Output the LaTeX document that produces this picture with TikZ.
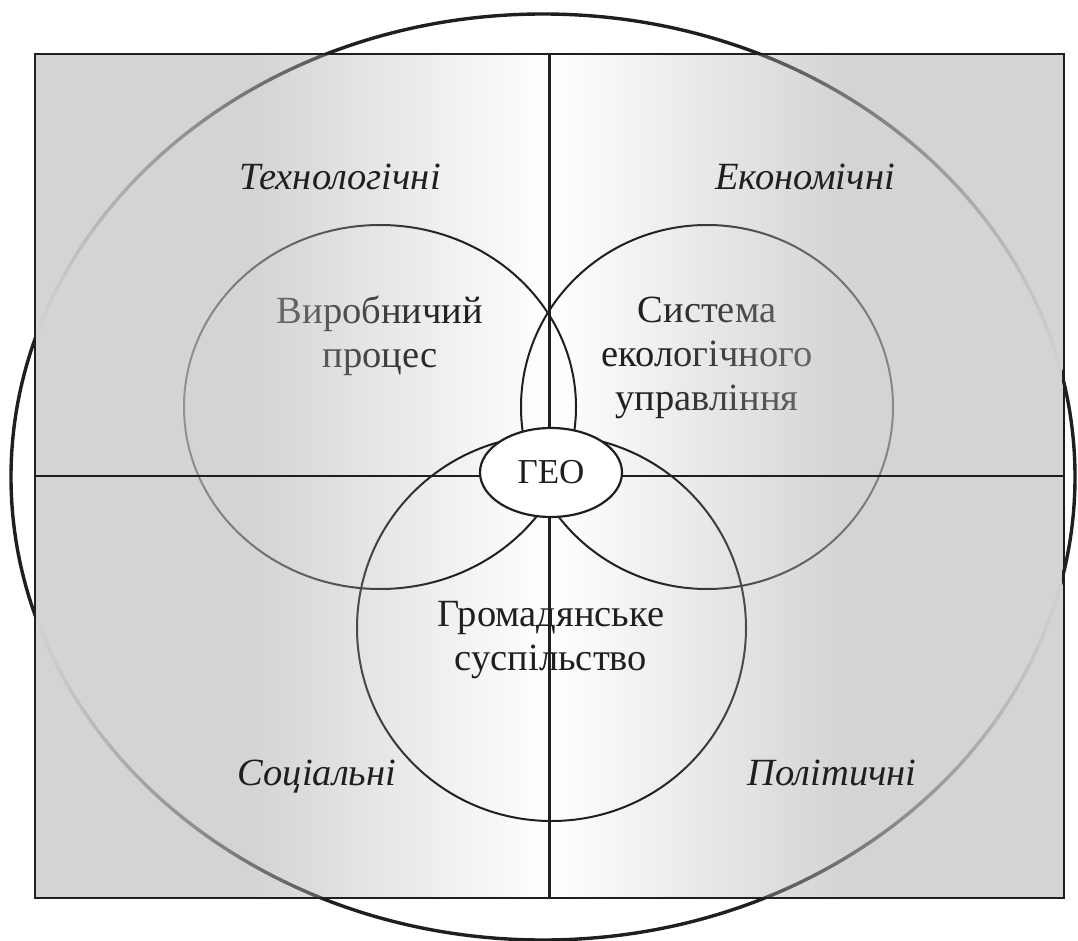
\documentclass[tikz,border=0pt]{standalone}
\usepackage{fontspec}
\setmainfont{Liberation Serif}
\usetikzlibrary{fadings,shapes.geometric}

\definecolor{bgg}{gray}{0.83}
\definecolor{ink}{gray}{0.12}
\pgfdeclarehorizontalshading{bgshade}{100bp}{color(0bp)=(bgg); color(35.45bp)=(bgg); color(50bp)=(white); color(64.55bp)=(bgg); color(100bp)=(bgg)}
\pgfdeclarehorizontalshading{edgeshade}{100bp}{color(0bp)=(white); color(25bp)=(white); color(45.17bp)=(black); color(54.83bp)=(black); color(75bp)=(white); color(100bp)=(white)}
\tikzfading[name=edgefade, shading=edgeshade]

\begin{document}
\begin{tikzpicture}[x=1pt,y=-1pt,
  ring/.style={ellipse, draw=ink, line width=2pt, inner sep=0pt},
  circtext/.style={font=\fontsize{38.5}{44}\selectfont, text=ink, align=center, inner sep=0pt, anchor=base},
  factor/.style={font=\fontsize{38.5}{44}\selectfont\itshape, text=ink, inner sep=0pt, anchor=base},
  divider/.style={draw=ink, line width=2.4pt},
]
\useasboundingbox (0,0) rectangle (1078,941);
% background gradient
\path[shade, shading=bgshade] (35,54) rectangle (1064,898);
% big ellipse
\node[ellipse, draw=ink, line width=3.4pt, minimum width=1064, minimum height=926, inner sep=0pt] (big) at (543,477) {};
% three spheres
\node[ring, minimum width=392, minimum height=364] (vp) at (380,407) {};
\node[ring, minimum width=372, minimum height=364] (se) at (707,407) {};
\node[ring, minimum width=389, minimum height=386] (gs) at (551.5,628) {};
\node[circtext] (tvp) at (380,367) {Виробничий\\процес};
\node[circtext] (tse) at (707,410) {Система\\екологічного\\управління};
\node[circtext] (tgs) at (551,670) {Громадянське\\суспільство};
% fading overlay
\path[shade, shading=bgshade, path fading=edgefade] (35,54) rectangle (1064,898);
% frame and dividers
\coordinate (tm) at (549.5,54);
\coordinate (bm) at (549.5,898);
\coordinate (lm) at (35,476);
\coordinate (rm) at (1064,476);
\draw[divider] (35,54) rectangle (1064,898);
\draw[divider] (tm) -- (bm);
\draw[divider] (lm) -- (rm);
\node[ellipse, draw=ink, line width=2.2pt, fill=white, minimum width=142, minimum height=89, inner sep=0pt, text=ink, font=\fontsize{35}{40}\selectfont] (geo) at (551,472.5) {ГЕО};
% factor labels
\node[factor] (f1) at (340,190) {Технологічні};
\node[factor] (f2) at (805,190) {Економічні};
\node[factor] (f3) at (317,785) {Соціальні};
\node[factor] (f4) at (832,785) {Політичні};
\end{tikzpicture}
\end{document}
